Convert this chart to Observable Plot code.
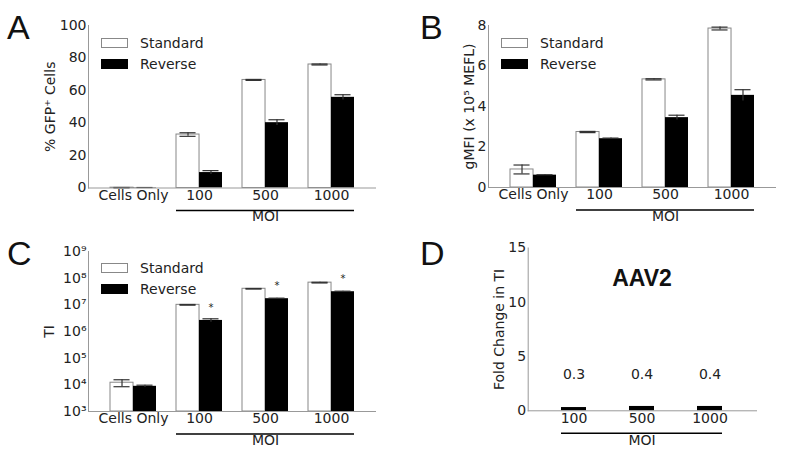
<!DOCTYPE html>
<html>
<head>
<meta charset="utf-8">
<script src="https://cdn.jsdelivr.net/npm/d3@7"></script>
<script src="https://cdn.jsdelivr.net/npm/@observablehq/plot@0.6"></script>
<style>
  body { margin: 0; background: #fff; }
  #fig { position: relative; width: 800px; height: 452px; overflow: hidden; font-family: "DejaVu Sans", sans-serif; color: #222; }
  .panel { position: absolute; overflow: visible; }
  .letter { position: absolute; font-family: "Liberation Sans", Arial, sans-serif; font-size: 34px; line-height: 34px; color: #111; }
  .sw { position: absolute; width: 27px; height: 10px; box-sizing: border-box; }
  .lg { position: absolute; font-size: 14px; line-height: 14px; color: #222; white-space: nowrap; }
</style>
</head>
<body>
<div id="fig"></div>
<script>
// ---------- data ----------
const groups = ["Cells Only", "100", "500", "1000"];
const seriesNames = ["Standard", "Reverse"];
const moiGroups = ["100", "500", "1000"];

// Panel A: % GFP+ cells
const gfpStandard = [0.2, 32.9, 66.5, 76.0];
const gfpStandardErr = [0.1, 1.1, 0.3, 0.3];
const gfpReverse = [0.2, 9.5, 40.2, 55.8];
const gfpReverseErr = [0.1, 1.2, 1.8, 1.6];

// Panel B: gMFI (x 10^5 MEFL)
const gmfiStandard = [0.89, 2.74, 5.34, 7.85];
const gmfiStandardErr = [0.22, 0.03, 0.03, 0.07];
const gmfiReverse = [0.61, 2.41, 3.45, 4.55];
const gmfiReverseErr = [0.02, 0.03, 0.12, 0.28];

// Panel C: TI (log scale)
const tiStandard = [1.2e4, 1.0e7, 4.0e7, 6.8e7];
const tiStandardErr = [3.5e3, 3e5, 1e6, 2e6];
const tiReverse = [8.8e3, 2.6e6, 1.7e7, 3.1e7];
const tiReverseErr = [9e2, 4e5, 8e5, 1.5e6];
const tiSignificance = ["", "*", "*", "*"];

// Panel D: fold change in TI (AAV2)
const foldChange = [0.3, 0.4, 0.4];
const foldLabels = ["0.3", "0.4", "0.4"];

// tick labels
const gfpTicks = [0, 20, 40, 60, 80, 100];
const gmfiTicks = [0, 2, 4, 6, 8];
const tiTicks = [1e3, 1e4, 1e5, 1e6, 1e7, 1e8, 1e9];
const foldTicks = [0, 5, 10, 15];

// ---------- helpers ----------
const W = 400, H = 226;
const AXIS = "#999";
const FS = 14;
const SUP = "⁰¹²³⁴⁵⁶⁷⁸⁹";
const pow10 = (d) => "10" + String(Math.round(Math.log10(d))).split("").map((c) => SUP[+c]).join("");
const fig = document.getElementById("fig");

function place(el, left, top) {
  el.classList.add("panel");
  el.style.left = left + "px";
  el.style.top = top + "px";
  fig.appendChild(el);
}

function barPanel(o) {
  const ml = 88, mr = 25;
  const pi = 0.31, po = 0.31;
  const step = (W - ml - mr) / (groups.length - pi + 2 * po);
  const half = step * (1 - pi) / 2;
  const cap = 8;
  const base = o.domain[0];
  const std = groups.map((g, i) => ({group: g, v: o.std[i], e: o.stdErr[i]}));
  const rev = groups.map((g, i) => ({group: g, v: o.rev[i], e: o.revErr[i], sig: o.sig ? o.sig[i] : ""}));
  const span = [{from: moiGroups[0], to: moiGroups[moiGroups.length - 1], mid: moiGroups[Math.floor(moiGroups.length / 2)], label: "MOI"}];
  return Plot.plot({
    width: W, height: H,
    marginLeft: ml, marginRight: mr, marginTop: o.mt, marginBottom: o.mb,
    style: {fontFamily: "DejaVu Sans", fontSize: FS + "px", color: "#222", background: "transparent", overflow: "visible"},
    x: {domain: groups, paddingInner: pi, paddingOuter: po},
    y: {type: o.type || "linear", domain: o.domain},
    marks: [
      Plot.barY(std, {x: "group", y1: base, y2: "v", insetRight: half, fill: "white", stroke: "#888", strokeWidth: 1}),
      Plot.barY(rev, {x: "group", y1: base, y2: "v", insetLeft: half, fill: "black"}),
      Plot.ruleX(std, {x: "group", y1: (d) => d.v - d.e, y2: (d) => d.v + d.e, dx: -half / 2, stroke: "#333", strokeWidth: 1.2}),
      Plot.ruleX(rev, {x: "group", y1: (d) => d.v - d.e, y2: (d) => d.v + d.e, dx: half / 2, stroke: "#333", strokeWidth: 1.2}),
      Plot.tickY(std, {x: "group", y: (d) => d.v + d.e, insetLeft: half / 2 - cap, insetRight: half * 1.5 - cap, stroke: "#333", strokeWidth: 1.2}),
      Plot.tickY(std, {x: "group", y: (d) => d.v - d.e, insetLeft: half / 2 - cap, insetRight: half * 1.5 - cap, stroke: "#333", strokeWidth: 1.2}),
      Plot.tickY(rev, {x: "group", y: (d) => d.v + d.e, insetLeft: half * 1.5 - cap, insetRight: half / 2 - cap, stroke: "#333", strokeWidth: 1.2}),
      o.sig ? Plot.text(rev, {x: "group", y: "v", text: "sig", dx: half / 2, dy: -13, fontSize: 10, fill: "#222"}) : null,
      Plot.frame({anchor: "left", stroke: AXIS}),
      Plot.frame({anchor: "bottom", stroke: AXIS}),
      Plot.axisY({ticks: o.ticks, tickSize: 0, tickPadding: 2, tickFormat: o.tickFormat, label: o.label, labelArrow: false, labelAnchor: "center", labelOffset: o.labelOffset || 44, fontSize: FS}),
      Plot.axisX({tickSize: 0, tickPadding: 2, label: null, fontSize: FS}),
      Plot.ruleY(span, {x1: "from", x2: "to", y: base, dy: 22.5, stroke: "black", strokeWidth: 1.5}),
      Plot.text(span, {x: "mid", text: "label", frameAnchor: "bottom", dy: 33, fontSize: FS, fill: "#222"})
    ]
  });
}

function legend(left, top) {
  const items = [
    {name: seriesNames[0], dy: 0, style: "background:#fff;border:1px solid #888;"},
    {name: seriesNames[1], dy: 21, style: "background:#000;"}
  ];
  for (const it of items) {
    const s = document.createElement("div");
    s.className = "sw";
    s.style.cssText = it.style + `left:${left}px;top:${top + it.dy}px;`;
    fig.appendChild(s);
    const t = document.createElement("div");
    t.className = "lg";
    t.textContent = it.name;
    t.style.left = (left + 39) + "px";
    t.style.top = (top + it.dy - 2) + "px";
    fig.appendChild(t);
  }
}

function letter(ch, left, top) {
  const d = document.createElement("div");
  d.className = "letter";
  d.textContent = ch;
  d.style.left = left + "px";
  d.style.top = top + "px";
  fig.appendChild(d);
}

// ---------- panels ----------
place(barPanel({std: gfpStandard, stdErr: gfpStandardErr, rev: gfpReverse, revErr: gfpReverseErr,
  domain: [0, 100], ticks: gfpTicks, label: "% GFP⁺ Cells", mt: 25, mb: 38.5, labelOffset: 43}), 0, 0);

place(barPanel({std: gmfiStandard, stdErr: gmfiStandardErr, rev: gmfiReverse, revErr: gmfiReverseErr,
  domain: [0, 8], ticks: gmfiTicks, label: "gMFI (x 10⁵ MEFL)", mt: 25, mb: 39, labelOffset: 24}), 400, 0);

place(barPanel({std: tiStandard, stdErr: tiStandardErr, rev: tiReverse, revErr: tiReverseErr, sig: tiSignificance,
  type: "log", domain: [1e3, 1e9], ticks: tiTicks, tickFormat: pow10, label: "TI", mt: 25, mb: 41, labelOffset: 44}), 0, 226);

// Panel D
(function () {
  const ml = 127.7, mr = 44;
  const data = moiGroups.map((g, i) => ({group: g, v: foldChange[i], label: foldLabels[i]}));
  const span = [{from: moiGroups[0], to: moiGroups[moiGroups.length - 1], mid: moiGroups[Math.floor(moiGroups.length / 2)], label: "MOI", title: "AAV2"}];
  const svg = Plot.plot({
    width: W, height: H,
    marginLeft: ml, marginRight: mr, marginTop: 21.5, marginBottom: 41.7,
    style: {fontFamily: "DejaVu Sans", fontSize: FS + "px", color: "#222", background: "transparent", overflow: "visible"},
    x: {domain: moiGroups, paddingInner: 0.635, paddingOuter: 0.484},
    y: {domain: [0, 15]},
    marks: [
      Plot.barY(data, {x: "group", y: "v", fill: "black"}),
      Plot.text(data, {x: "group", text: "label", frameAnchor: "bottom", dy: -31.5, fontSize: FS, fill: "#222"}),
      Plot.text(span, {x: "mid", text: "title", frameAnchor: "top", dy: 22, fontSize: 23, fontWeight: "bold", fontFamily: "Liberation Sans", fill: "#111"}),
      Plot.frame({anchor: "left", stroke: AXIS}),
      Plot.frame({anchor: "bottom", stroke: AXIS}),
      Plot.axisY({ticks: foldTicks, tickSize: 0, tickPadding: 2, label: "Fold Change in TI", labelArrow: false, labelAnchor: "center", labelOffset: 34, fontSize: FS}),
      Plot.axisX({tickSize: 0, tickPadding: 2, label: null, fontSize: FS}),
      Plot.ruleY(span, {x1: "from", x2: "to", y: 0, dy: 22.5, stroke: "black", strokeWidth: 1.5}),
      Plot.text(span, {x: "mid", text: "label", frameAnchor: "bottom", dy: 34, fontSize: FS, fill: "#222"})
    ]
  });
  place(svg, 400, 226);
})();

legend(101, 38);
legend(501, 38);
legend(101, 263);

letter("A", 7, 10);
letter("B", 420, 10);
letter("C", 7, 236);
letter("D", 420, 236);
</script>
</body>
</html>
